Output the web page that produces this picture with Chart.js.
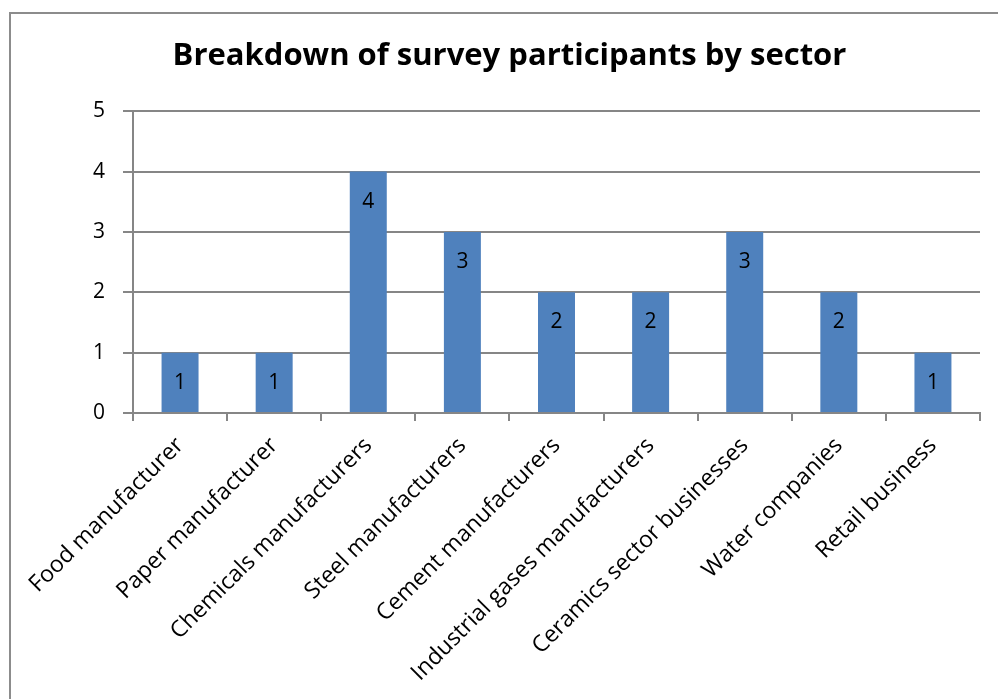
<!DOCTYPE html>
<html>
<head>
<meta charset="utf-8">
<script src="https://cdn.jsdelivr.net/npm/chart.js@4.4.1/dist/chart.umd.min.js"></script>
<style>
  html, body { margin: 0; padding: 0; background: #fff; }
  #wrap { position: relative; width: 998px; height: 699px; overflow: hidden; }
  #frame { position: absolute; left: 9px; top: 12px; width: 1100px; height: 800px;
           border-left: 2px solid #8c8c8c; border-top: 2px solid #8c8c8c; }
  canvas { position: absolute; left: 0; top: 0; }
</style>
</head>
<body>
<div id="wrap">
  <div id="frame"></div>
  <canvas id="c" width="998" height="699"></canvas>
</div>
<script>
const titleText = 'Breakdown of survey participants by sector';
const categories = [
  'Food manufacturer',
  'Paper manufacturer',
  'Chemicals manufacturers',
  'Steel manufacturers',
  'Cement manufacturers',
  'Industrial gases manufacturers',
  'Ceramics sector businesses',
  'Water companies',
  'Retail business'
];
const participants = [1, 1, 4, 3, 2, 2, 3, 2, 1];
const yTicks = [0, 1, 2, 3, 4, 5];

const FONT = '"Open Sans", "DejaVu Sans", sans-serif';
const GRID = '#868686';

const labelPlugin = {
  id: 'insideEndLabels',
  afterDatasetsDraw(chart) {
    const ctx = chart.ctx;
    const meta = chart.getDatasetMeta(0);
    ctx.save();
    ctx.font = '21px ' + FONT;
    ctx.fillStyle = '#000';
    ctx.textAlign = 'center';
    ctx.textBaseline = 'middle';
    meta.data.forEach((bar, i) => {
      ctx.fillText(String(participants[i]), bar.x, bar.y + 30);
    });
    ctx.restore();
  }
};

new Chart(document.getElementById('c'), {
  type: 'bar',
  data: {
    labels: categories,
    datasets: [{
      data: participants,
      backgroundColor: '#4F81BD',
      borderWidth: 0,
      categoryPercentage: 1.0,
      barPercentage: 0.393
    }]
  },
  options: {
    responsive: false,
    animation: false,
    devicePixelRatio: 1,
    layout: { padding: { left: 21, right: 0, top: 0, bottom: 0 } },
    plugins: {
      legend: { display: false },
      tooltip: { enabled: false },
      title: {
        display: true,
        text: titleText,
        color: '#000',
        font: { family: FONT, size: 31, weight: 'bold', lineHeight: 1.2 },
        padding: { top: 38, bottom: 36 }
      }
    },
    scales: {
      x: {
        offset: true,
        grid: { display: true, drawOnChartArea: false, drawTicks: true, tickLength: 8,
                color: GRID, lineWidth: 2, offset: true },
        border: { display: true, color: GRID, width: 2 },
        ticks: { autoSkip: false, maxRotation: 45, minRotation: 45, padding: 11,
                 color: '#000', font: { family: FONT, size: 23 } },
        afterFit(s) { s.height = 286; }
      },
      y: {
        min: 0, max: 5,
        afterBuildTicks(s) { s.ticks = yTicks.map(v => ({ value: v })); },
        grid: { color: GRID, lineWidth: 2, tickLength: 10, drawTicks: true },
        border: { display: true, color: GRID, width: 2 },
        ticks: { padding: 18, color: '#000', font: { family: FONT, size: 21 } },
        afterFit(s) { s.width = 112; }
      },
      yPad: {
        position: 'right',
        display: true,
        grid: { display: false },
        border: { display: false },
        ticks: { display: false },
        afterFit(s) { s.width = 18; }
      }
    }
  },
  plugins: [labelPlugin]
});
</script>
</body>
</html>
